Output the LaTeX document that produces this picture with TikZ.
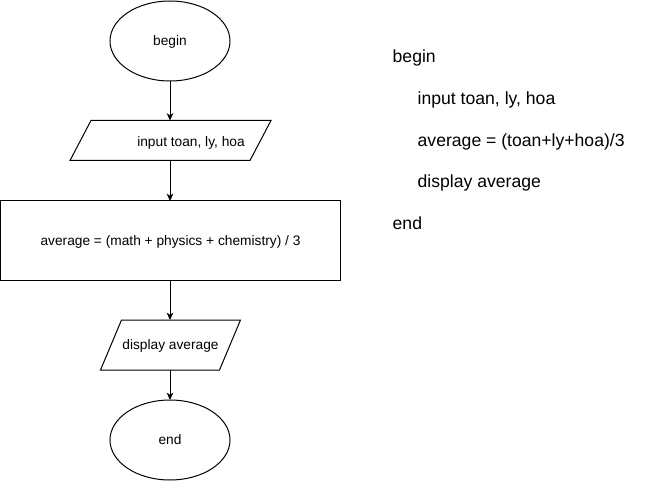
\documentclass[tikz,border=0pt]{standalone}
\usepackage{fontspec}
\setmainfont{Liberation Sans}
\usetikzlibrary{shapes.geometric,arrows.meta}
\begin{document}
\begin{tikzpicture}[x=0.75pt,y=-0.75pt,line width=0.75pt,
  every node/.style={inner sep=0pt,outer sep=0pt},
  flowtext/.style={font=\fontsize{10.3}{12}\selectfont,text height=0.72em,text depth=0pt},
  term/.style={flowtext,draw,ellipse,minimum width=90pt,minimum height=60pt},
  iobox/.style={flowtext,rectangle},
  procbox/.style={flowtext,draw,rectangle,minimum width=255pt,minimum height=60pt},
  codetext/.style={font=\fontsize{13.2}{15}\selectfont,anchor=base west},
  arr/.style={-{Stealth[length=5.5pt,width=5pt,inset=1.6pt]}}
]
\useasboundingbox (0,0) rectangle (661,481);

\node[term] (b) at (170,41) {begin};
\node[iobox,minimum width=150.75pt,minimum height=30pt] (in) at (170.5,140.5) {};
\draw (in.north west) ++(21,0) -- (in.north east) -- ([xshift=-15.75pt]in.south east) -- (in.south west) -- cycle;
\node[flowtext] (intext) at (191,141.8) {input toan, ly, hoa};
\node[procbox] (rect) at (170.5,241) {average = (math + physics + chemistry) / 3};
\node[iobox,minimum width=105pt,minimum height=37.5pt] (disp) at (170.5,345) {display average};
\draw (disp.north west) ++(21,0) -- (disp.north east) -- ([xshift=-15.75pt]disp.south east) -- (disp.south west) -- cycle;
\node[term] (e) at (170,440) {end};

\draw[arr] (b.south) -- (b.south |- in.north);
\draw[arr] (in.south -| b.south) -- (rect.north -| b.south);
\draw[arr] (rect.south -| b.south) -- (disp.north -| b.south);
\draw[arr] (disp.south -| b.south) -- (e.north);

\node[codetext] (c1) at (392.7,62.7) {begin};
\node[codetext] (c2) at (417.7,104.4) {input toan, ly, hoa};
\node[codetext] (c3) at (417.7,146.1) {average = (toan+ly+hoa)/3};
\node[codetext] (c4) at (417.7,187.8) {display average};
\node[codetext] (c5) at (392.7,229.5) {end};
\end{tikzpicture}
\end{document}
